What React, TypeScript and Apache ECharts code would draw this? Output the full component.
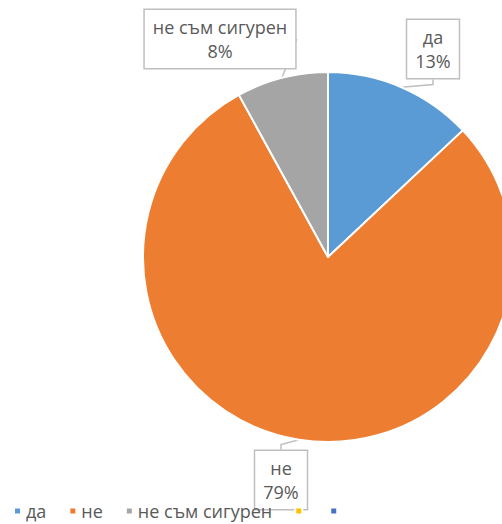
import React, { useEffect, useRef } from "react";
import * as echarts from "echarts";

const categories = ["да", "не", "не съм сигурен", "blank1", "blank2"];
const values = [13, 79, 8, 0, 0];
const colors = ["#5B9BD5", "#ED7D31", "#A5A5A5", "#FFC000", "#4472C4"];
const blanks = ["blank1", "blank2"];
const labelCenters: Record<number, [number, number]> = {
  0: [433, 49],
  1: [281, 480],
  2: [220, 39],
};

export default function App() {
  const ref = useRef<HTMLDivElement>(null);
  useEffect(() => {
    document.body.style.margin = "0";
    const chart = echarts.init(ref.current!, null, { renderer: "svg" });
    chart.setOption({
      animation: false,
      color: colors,
      legend: {
        left: 8,
        top: 502,
        padding: [0, 5, 0, 5],
        icon: "rect",
        itemWidth: 7,
        itemHeight: 7,
        itemGap: 22,
        selectedMode: false,
        textStyle: { fontSize: 18, lineHeight: 18, color: "#595959", fontFamily: "Open Sans" },
        formatter: (name: string) => (blanks.includes(name) ? "" : name),
        data: categories,
      },
      series: [
        {
          type: "pie",
          center: [328, 257],
          radius: 185,
          startAngle: 90,
          clockwise: true,
          percentPrecision: 0,
          avoidLabelOverlap: false,
          itemStyle: { borderColor: "#fff", borderWidth: 2 },
          label: {
            show: true,
            position: "outside",
            formatter: "{b}\n{d}%",
            fontSize: 18,
            lineHeight: 24,
            fontFamily: "Open Sans",
            color: "#595959",
            backgroundColor: "#fff",
            borderColor: "#BFBFBF",
            borderWidth: 1.5,
            padding: [5, 8, 5, 8],
          },
          labelLine: {
            show: true,
            length: 5,
            length2: 5,
            lineStyle: { color: "#BFBFBF", width: 1.5 },
          },
          labelLayout: (params: any) => {
            const c = labelCenters[params.dataIndex];
            if (!c) return {};
            return { x: c[0], y: c[1], align: "center", verticalAlign: "middle" };
          },
          data: categories.map((n, i) => ({
            name: n,
            value: values[i],
            label: blanks.includes(n) ? { show: false } : undefined,
            labelLine: blanks.includes(n) ? { show: false } : undefined,
          })),
        },
      ],
    });
    return () => chart.dispose();
  }, []);
  return <div ref={ref} style={{ width: 502, height: 524 }} />;
}
